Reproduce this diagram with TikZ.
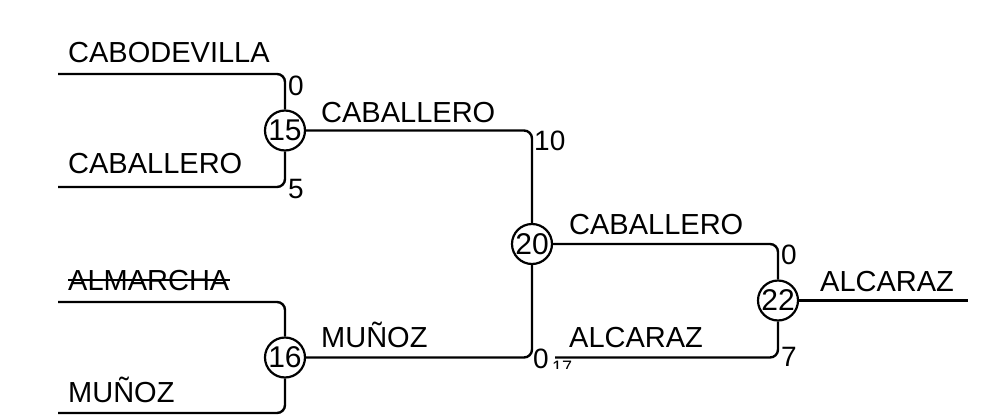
\documentclass[tikz,border=0pt]{standalone}
\usepackage{fontspec}
\setmainfont{Liberation Sans}
\begin{document}
\begin{tikzpicture}[x=1pt,y=-1pt,
  ln/.style={line width=2.4pt,rounded corners=8pt},
  mt/.style={circle,draw,line width=2.2pt,inner sep=0pt,minimum size=40pt,font=\fontsize{30}{30}\selectfont},
  lab/.style={anchor=base west,inner sep=0pt,font=\fontsize{29}{29}\selectfont},
  sc/.style={inner sep=0pt,font=\fontsize{28}{28}\selectfont},
  scs/.style={inner sep=0pt,font=\fontsize{18}{18}\selectfont}]
\useasboundingbox (0,0) rectangle (983,418);
% match nodes
\node[mt] (m15) at (285,130.5) {15};
\node[mt] (m16) at (285,357.5) {16};
\node[mt] (m20) at (532,244) {20};
\node[mt] (m22) at (778,300.5) {22};
% free ends
\coordinate (a1) at (58,74);
\coordinate (a2) at (58,187);
\coordinate (a3) at (58,302);
\coordinate (a4) at (58,413);
\coordinate (a5) at (555,357.5);
\coordinate (a6) at (968,300.5);
% connectors
\draw[ln] (a1) -| (m15.north);
\draw[ln] (a2) -| (m15.south);
\draw[ln] (a3) -| (m16.north);
\draw[ln] (a4) -| (m16.south);
\draw[ln] (m15.east) -| (m20.north);
\draw[ln] (m16.east) -| (m20.south);
\draw[ln] (m20.east) -| (m22.north);
\draw[ln] (a5) -| (m22.south);
\draw[ln] (m22.east) -- (a6);
% labels
\node[lab] (l1) at (68,62) {CABODEVILLA};
\node[lab] (l2) at (68,173) {CABALLERO};
\node[lab] (l3) at (68,290) {ALMARCHA};
\draw[line width=1.8pt] ([yshift=10pt]l3.base west) -- ([yshift=10pt]l3.base east);
\node[lab] (l4) at (68,402) {MUÑOZ};
\node[lab] (l5) at (321,122) {CABALLERO};
\node[lab] (l6) at (321,347) {MUÑOZ};
\node[lab] (l7) at (569,234) {CABALLERO};
\node[lab] (l8) at (569,347) {ALCARAZ};
\node[lab] (l9) at (820,291) {ALCARAZ};
% scores
\node[sc,anchor=north west] (s1) at (288,76) {0};
\node[sc,anchor=west] (s2) at (288,189) {5};
\node[sc,anchor=north west] (s3) at (534,131) {10};
\node[sc,anchor=west] (s4) at (533,359) {0};
\node[sc,anchor=north west] (s5) at (781,245) {0};
\node[sc,anchor=west] (s6) at (781,357) {7};
\begin{scope}
\clip (545,355) rectangle (585,368);
\node[scs,anchor=north west] (s7) at (552,361) {17};
\end{scope}
\end{tikzpicture}
\end{document}
